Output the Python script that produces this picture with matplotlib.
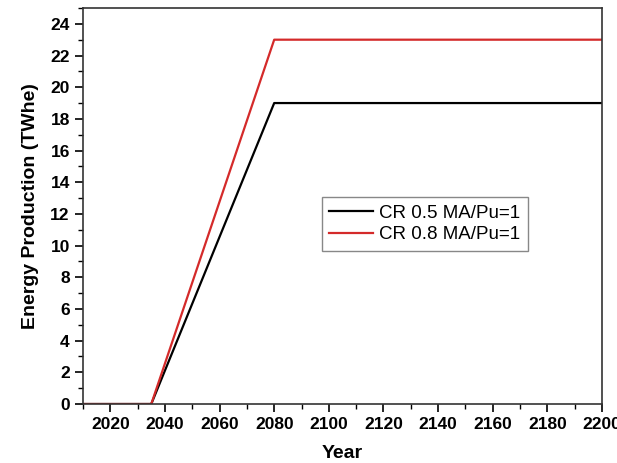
import matplotlib
matplotlib.use("Agg")
import matplotlib.pyplot as plt
from matplotlib.ticker import MultipleLocator

plt.rcParams['font.family'] = ['Liberation Sans', 'DejaVu Sans']

years = [2010, 2035, 2080, 2200]
cr05 = [0, 0, 19, 19]
cr08 = [0, 0, 23, 23]
labels = ["CR 0.5 MA/Pu=1", "CR 0.8 MA/Pu=1"]

fig = plt.figure(figsize=(6.17, 4.63), dpi=100)
ax = fig.add_axes([0.1345, 0.1274, 0.8412, 0.8553])
ax.plot(years, cr05, color='black', lw=1.6, label=labels[0])
ax.plot(years, cr08, color='#d42a2a', lw=1.6, label=labels[1])

ax.set_xlim(2010, 2200)
ax.set_ylim(0, 25)
ax.xaxis.set_major_locator(MultipleLocator(20))
ax.xaxis.set_minor_locator(MultipleLocator(10))
ax.yaxis.set_major_locator(MultipleLocator(2))
ax.yaxis.set_minor_locator(MultipleLocator(1))
ax.tick_params(which='major', direction='out', length=6, width=1.2, labelsize=12.5)
ax.tick_params(which='minor', direction='out', length=3.5, width=1.0)
for lab in ax.get_xticklabels() + ax.get_yticklabels():
    lab.set_fontweight('bold')
for sp in ax.spines.values():
    sp.set_linewidth(1.2)
    sp.set_color('#333333')

ax.set_xlabel("Year", fontsize=14, fontweight='bold', labelpad=9)
ax.set_ylabel("Energy Production (TWhe)", fontsize=14, fontweight='bold', labelpad=8)

leg = ax.legend(loc='upper left', bbox_to_anchor=(0.46, 0.523), borderaxespad=0,
                fontsize=13.5, fancybox=False, framealpha=1, edgecolor='#888888',
                handlelength=2.35, handletextpad=0.3, borderpad=0.4,
                labelspacing=0.25)
leg.get_frame().set_linewidth(1.0)

fig.savefig("out.png", dpi=100)
